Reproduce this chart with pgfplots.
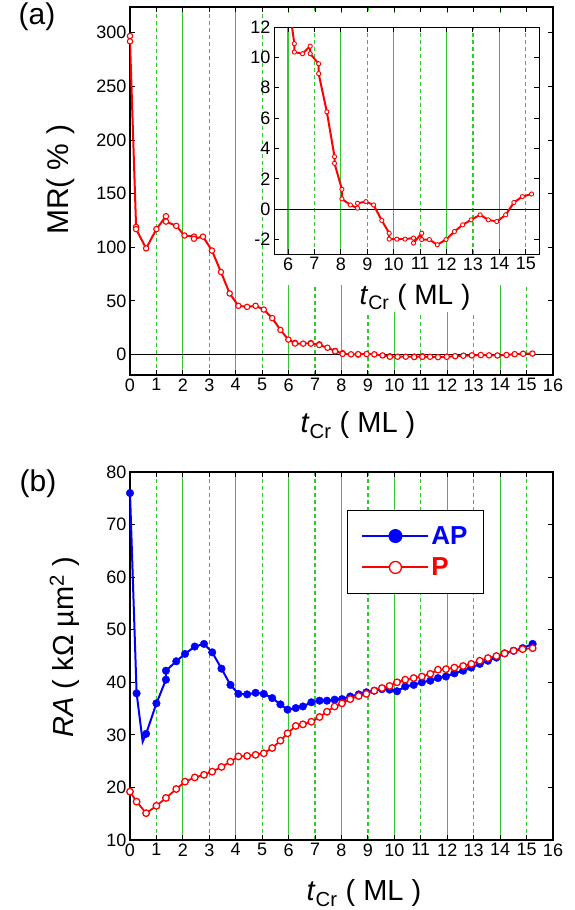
\documentclass[border=0pt]{standalone}
\usepackage{fontspec}
\setmainfont{Liberation Sans}
\usepackage{pgfplots}
\usepackage{pgfplotstable}
\pgfplotsset{compat=1.18}
\definecolor{mygreen}{RGB}{50,200,50}

\pgfplotstableread{
t mr
0.00 297
0.00 292
0.23 119
0.23 117
0.61 99
1.00 117
1.36 129
1.36 124
1.75 120
2.06 111
2.42 110
2.42 108
2.76 110
3.10 97
3.44 77
3.77 57
4.10 45.5
4.43 44.5
4.75 45.5
5.06 42
5.38 34
5.69 23
5.99 14
6.24 10.9
6.24 10.35
6.55 10.24
6.84 10.74
6.84 10.24
7.16 9.58
7.16 8.93
7.47 6.41
7.76 3.46
7.76 3.02
8.04 1.31
8.04 0.68
8.36 0.28
8.63 0.07
8.63 0.39
8.95 0.5
9.24 0.28
9.55 -0.74
9.83 -1.58
9.83 -1.97
10.12 -1.97
10.43 -1.97
10.75 -1.9
10.75 -2.23
11.06 -1.58
11.06 -2.0
11.35 -2.0
11.65 -2.34
11.98 -2.0
12.30 -1.47
12.61 -1.03
12.93 -0.7
13.27 -0.37
13.58 -0.7
13.90 -0.81
14.24 -0.37
14.55 0.44
14.87 0.83
15.22 1.0
}\mrdata

\pgfplotstableread{
t ra
0.00 76.0
0.25 37.9
0.48 28.7
0.61 30.2
1.00 36.0
1.36 40.5
1.36 42.2
1.75 44.0
2.08 45.4
2.45 46.8
2.80 47.3
3.11 45.7
3.46 42.6
3.80 39.5
4.10 37.8
4.43 37.7
4.75 38.0
5.06 37.8
5.38 37.0
5.69 35.8
5.96 34.8
6.27 35.1
6.54 35.4
6.86 36.2
7.17 36.5
7.45 36.5
7.74 36.7
8.02 36.8
8.33 37.3
8.65 37.7
8.94 38.1
9.24 38.4
9.53 38.7
9.82 38.6
10.10 38.3
10.41 39.2
10.73 39.5
11.04 40.0
11.36 40.3
11.65 40.8
11.95 41.1
12.27 41.7
12.60 42.2
12.91 42.8
13.23 43.5
13.54 44.1
13.86 44.7
14.17 45.5
14.51 46.0
14.85 46.5
15.23 47.3
}\apdata

\pgfplotstableread{
t ra
0.00 19.2
0.25 17.3
0.61 15.1
1.00 16.5
1.36 18.0
1.75 19.7
2.08 21.1
2.45 21.9
2.80 22.4
3.11 23.0
3.46 23.9
3.80 24.9
4.10 25.9
4.43 26.0
4.75 26.2
5.06 26.5
5.38 27.5
5.69 28.9
5.96 30.3
6.27 31.7
6.54 32.0
6.86 32.5
7.17 33.4
7.45 34.4
7.74 35.4
8.02 36.0
8.33 36.8
8.65 37.4
8.94 37.8
9.24 38.4
9.53 38.9
9.82 39.3
10.10 40.0
10.41 40.5
10.73 40.8
11.04 41.1
11.36 41.6
11.65 42.4
11.95 42.5
12.27 42.8
12.60 43.1
12.91 43.5
13.23 44.1
13.54 44.6
13.86 45.0
14.17 45.5
14.51 46.0
14.85 46.3
15.23 46.5
}\pdata

\pgfplotsset{
  base/.style={
    scale only axis,
    tick align=inside, major tick length=5pt, minor tick length=0pt,
    axis line style={line width=1.2pt},
    tick style={line width=1pt, black},
    tick label style={font=\fontsize{18}{20}\selectfont},
    /pgf/number format/assume math mode=true,
    label style={font=\fontsize{29}{32}\selectfont},
    xmajorgrids, xminorgrids,
    major grid style={mygreen, line width=1.1pt, solid},
    minor grid style={mygreen, line width=1.2pt, dash pattern=on 4pt off 3pt},
    extra x tick style={grid=none},
  },
  myaxis/.style={
    base, width=423pt, xmin=0, xmax=16,
    xtick={0,2,...,16}, minor xtick={1,3,...,15}, extra x ticks={1,3,...,15},
  }
}

\begin{document}
\begin{tikzpicture}
\path[use as bounding box] (0pt,0pt) rectangle (574pt,-910pt);

% ---------------- panel (a)
\begin{axis}[myaxis, at={(130pt,-375pt)}, anchor=south west, height=368pt,
  ymin=-19, ymax=324, ytick={0,50,...,300},
  xlabel={\textit{t}\textsubscript{Cr} ( ML )}, ylabel={MR( \% )},
  xlabel style={at={(axis description cs:0.539,-0.136)}, anchor=center},
  ylabel style={at={(axis description cs:-0.163,0.53)}, anchor=center, font=\fontsize{30}{32}\selectfont}]
\addplot[black, line width=1.5pt, forget plot] coordinates {(0,0) (16,0)};
\addplot[red, line width=2pt, mark=*, mark size=2.7pt, mark options={fill=white, line width=1.1pt}] table[x=t, y=mr] {\mrdata};
\end{axis}

\fill[white] (274pt,-12.5pt) rectangle (539pt,-285pt);
\fill[white] (355pt,-285pt) rectangle (476pt,-312pt);

% ---------------- inset
\begin{axis}[base, at={(274pt,-254pt)}, anchor=south west, width=265pt, height=227pt,
  xmin=5.47, xmax=15.5, ymin=-2.95, ymax=12,
  xtick={6,8,...,14}, minor xtick={7,9,...,15}, extra x ticks={7,9,...,15}, ytick={-2,0,...,12},
  axis line style={line width=0.8pt},
  axis background/.style={fill=white},
  xlabel={\textit{t}\textsubscript{Cr} ( ML )},
  label style={font=\fontsize{28}{30}\selectfont},
  xlabel style={at={(axis description cs:0.532,-0.19)}, anchor=center}]
\addplot[black, line width=0.8pt, forget plot] coordinates {(5.47,0) (15.5,0)};
\addplot[red, line width=2pt, mark=*, mark size=2.1pt, mark options={fill=white, line width=0.9pt}] table[x=t, y=mr] {\mrdata};
\end{axis}

\node[font=\fontsize{30}{32}\selectfont] at (37pt,-17pt) {(a)};

% ---------------- panel (b)
\begin{axis}[myaxis, at={(130pt,-840pt)}, anchor=south west, height=368pt,
  ymin=10, ymax=80, ytick={10,20,...,80},
  xlabel={\textit{t}\textsubscript{Cr} ( ML )},
  ylabel={\textit{RA} ( kΩ µm\textsuperscript{2} )},
  xlabel style={at={(axis description cs:0.553,-0.144)}, anchor=center},
  ylabel style={at={(axis description cs:-0.155,0.524)}, anchor=center},
  legend style={at={(axis description cs:0.513,0.897)}, anchor=north west,
    draw=black, line width=0.9pt, fill=white,
    font=\fontsize{26}{30}\selectfont\bfseries, inner xsep=14pt, inner ysep=14pt,
    row sep=8pt, /tikz/every even column/.append style={column sep=10pt}},
  legend cell align=left,
  legend image code/.code={\draw[mark repeat=2,mark phase=2,#1] plot coordinates {(0pt,0pt) (33pt,0pt) (66pt,0pt)};}]
\addplot[blue, line width=2pt, forget plot] table[x=t, y=ra] {\apdata};
\addplot[blue, only marks, mark=*, mark size=3.8pt, skip coords between index={2}{3}, forget plot] table[x=t, y=ra] {\apdata};
\addplot[red, line width=1.8pt, mark=*, mark size=3.3pt, mark options={fill=white, line width=1.3pt}, forget plot] table[x=t, y=ra] {\pdata};
\addlegendimage{blue, line width=2pt, mark=*, mark size=6pt}
\addlegendentry{\textcolor{blue}{AP}}
\addlegendimage{red, line width=2pt, mark=*, mark size=6pt, mark options={fill=white, line width=1.3pt}}
\addlegendentry{\textcolor{red}{P}}
\end{axis}

\node[font=\fontsize{30}{32}\selectfont] at (38pt,-484pt) {(b)};
\end{tikzpicture}
\end{document}
